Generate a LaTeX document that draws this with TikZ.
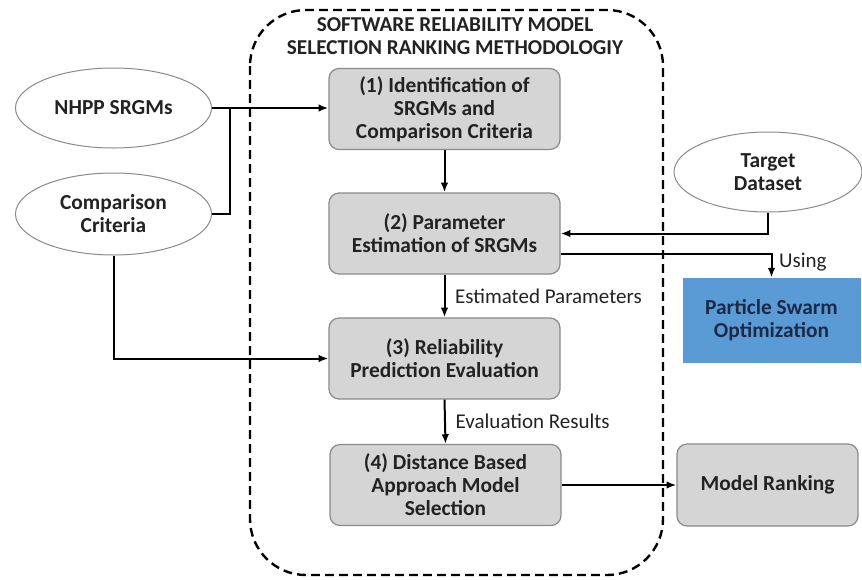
\documentclass[tikz,border=0pt]{standalone}
\usepackage{fontspec}
\setmainfont{Carlito}
\usetikzlibrary{arrows.meta,shapes.geometric,calc}
\definecolor{sgray}{HTML}{D5D5D5}
\definecolor{sedge}{HTML}{8A8A8A}
\definecolor{sblue}{HTML}{5B9BD5}
\definecolor{snavy}{HTML}{1C2A48}
\definecolor{stext}{HTML}{222222}
\tikzset{
  >={Latex[length=1.7mm,width=1.3mm]},
  sfont/.style={font=\fontsize{10.7}{11.5}\selectfont\bfseries, text=stext},
  sstep/.style={sfont, rounded corners=5pt, draw=sedge, fill=sgray, line width=0.6pt,
                minimum width=115.5pt, minimum height=40.5pt, align=center, inner sep=2pt},
  sinput/.style={sfont, ellipse, draw=sedge, fill=white, line width=0.5pt,
                 minimum width=98pt, minimum height=40pt, align=center, inner sep=1pt},
  sflow/.style={->, black, line width=1pt},
  slink/.style={black, line width=1pt},
  slbl/.style={font=\fontsize{10.5}{11}\selectfont, text=stext},
  sframe/.style={black, line width=1.2pt, dash pattern=on 4.4pt off 2.6pt,
                 rounded corners=28pt},
}

\begin{document}
\begin{tikzpicture}[x=0.5pt,y=-0.5pt]
  \useasboundingbox (0,0) rectangle (862,579);

  % methodology frame
  \draw[sframe] (250,10) rectangle (663,575);
  \node[sfont, align=center, font=\fontsize{10.6}{11.6}\selectfont\bfseries] (title) at (455,36)
        {SOFTWARE RELIABILITY MODEL\\SELECTION RANKING METHODOLOGIY};

  % steps
  \node[sstep] (s1) at (444.5,109) {(1) Identification of\\SRGMs and\\Comparison Criteria};
  \node[sstep] (s2) at (444.5,233.5) {(2) Parameter\\Estimation of SRGMs};
  \node[sstep] (s3) at (444.5,358.5) {(3) Reliability\\Prediction Evaluation};
  \node[sstep] (s4) at (445.5,485) {(4) Distance Based\\Approach Model\\Selection};

  % inputs
  \node[sinput] (nhpp) at (113.5,108) {NHPP SRGMs};
  \node[sinput, minimum height=41pt] (crit) at (113.5,214) {Comparison\\Criteria};
  \node[sinput, minimum width=94pt] (target) at (768,172) {Target\\Dataset};

  % tools and result
  \node[sfont, fill=sblue, draw=sblue, text=snavy, minimum width=88.5pt, minimum height=42pt,
        align=center] (pso) at (771.5,320) {Particle Swarm\\Optimization};
  \node[sstep, minimum width=90.5pt, minimum height=41pt] (rank) at (767.5,485) {Model Ranking};

  % connectors
  \coordinate (join) at (230,108);
  \draw[sflow] (nhpp.east) -- (s1.west |- nhpp.east);
  \draw[slink] (crit.east) -| (join);
  \draw[sflow] (crit.south) |- (s3.west);
  \draw[sflow] (s1.south) -- (s2.north);
  \draw[sflow] (s2.south) -- node[slbl, right, xshift=1.5pt] {Estimated Parameters} (s3.north);
  \draw[sflow] (s3.south) -- node[slbl, right, xshift=1.5pt] {Evaluation Results} (s4.north);
  \draw[sflow] (target.south) |- (s2.east);
  \draw[sflow] ($(s2.east)+(0,20)$) -| node[slbl, right, pos=0.68] {Using} (pso.north);
  \draw[sflow] (s4.east) -- (rank.west);

\end{tikzpicture}
\end{document}
